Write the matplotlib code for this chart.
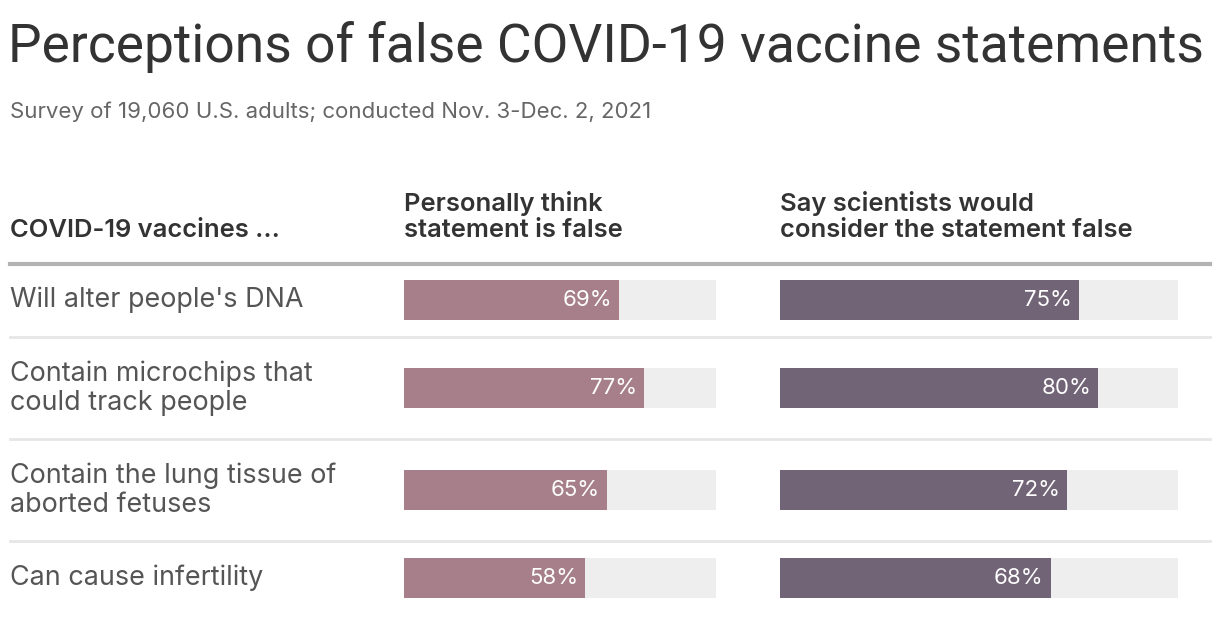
import matplotlib.pyplot as plt

# data
statements = ["Will alter people's DNA",
              "Contain microchips that\ncould track people",
              "Contain the lung tissue of\naborted fetuses",
              "Can cause infertility"]
personally_false = [69, 77, 65, 58]
scientists_false = [75, 80, 72, 68]
col_headers = ["COVID-19 vaccines ...",
               "Personally think\nstatement is false",
               "Say scientists would\nconsider the statement false"]

W, H = 1220, 622
plt.rcParams['font.family'] = ['Inter', 'DejaVu Sans']

fig = plt.figure(figsize=(W / 100, H / 100), dpi=100)
fig.patch.set_facecolor('white')

def fx(px):
    return px / W

def fy(py):
    return 1 - py / H

# title and subtitle
fig.text(fx(8), fy(62), "Perceptions of false COVID-19 vaccine statements",
         fontsize=38.4, color='#333333', va='baseline', ha='left',
         family=['Roboto', 'DejaVu Sans'])
fig.text(fx(10), fy(112), "Survey of 19,060 U.S. adults; conducted Nov. 3-Dec. 2, 2021",
         fontsize=16, color='#666666', va='center', ha='left')

# column headers
hdr_x = [10, 404, 780]
for x, h in zip(hdr_x, col_headers):
    fig.text(fx(x), fy(237), h, fontsize=18.4, fontweight='semibold',
             color='#333333', va='baseline', ha='left', linespacing=1.18)
    
# header rule
fig.add_artist(plt.Line2D([fx(10), fx(1210)], [fy(264), fy(264)],
                          color='#b3b3b3', lw=3))

# row layout: heights depend on number of lines in the label
top = 263
row_centers, seps = [], []
y = top
for s in statements:
    n = s.count('\n') + 1
    rh = 74 if n == 1 else 102
    row_centers.append(y + rh / 2)
    y += rh
    seps.append(y)
seps = seps[:-1]

for s, c in zip(statements, row_centers):
    fig.text(fx(10), fy(c), s, fontsize=19.4, color='#555555',
             va='center', ha='left', linespacing=1.13)

for sp in seps:
    fig.add_artist(plt.Line2D([fx(10), fx(1210)], [fy(sp), fy(sp)],
                              color='#e6e6e6', lw=2))

# bar panels
panels = [(404, 716, personally_false, '#a67f8a'),
          (780, 1178, scientists_false, '#726477')]
ax_top, ax_bot = 264, 622
for x0, x1, vals, col in panels:
    ax = fig.add_axes([fx(x0), fy(ax_bot), (x1 - x0) / W, (ax_bot - ax_top) / H])
    ax.set_xlim(0, 100)
    ax.set_ylim(ax_bot, ax_top)
    ax.barh(row_centers, [100] * len(vals), height=40, color='#eeeeee', lw=0)
    ax.barh(row_centers, vals, height=40, color=col, lw=0)
    for v, c in zip(vals, row_centers):
        ax.annotate(f"{v}%", (v, c), xytext=(-5, 0), textcoords='offset points',
                    ha='right', va='center', color='white', fontsize=16)
    ax.axis('off')

fig.savefig('out.png', dpi=100)
